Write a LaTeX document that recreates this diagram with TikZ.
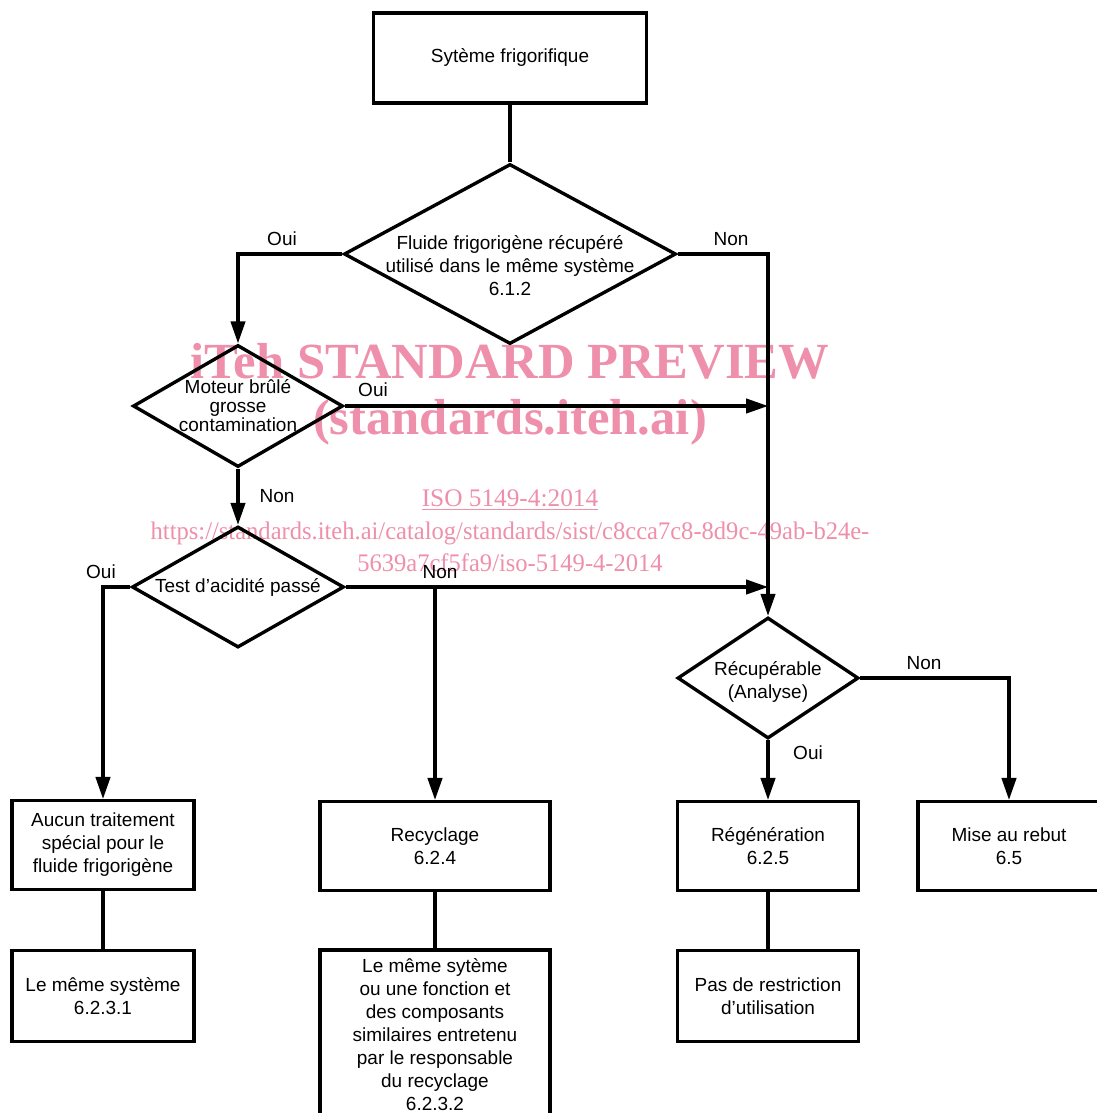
\documentclass[tikz,border=0pt]{standalone}
\usepackage{fontspec}
\setmainfont{Liberation Sans}
\newfontfamily\wmfont{Liberation Serif}
\usepackage{tikz}
\usetikzlibrary{
  shapes.geometric,
  arrows.meta
}
\definecolor{wmpink}{RGB}{238,143,171}

\tikzset{
  box/.style 2 args = {draw, line width=2.2pt, align=center, inner sep=0pt,
    minimum width=#1, minimum height=#2},
  decision/.style 2 args = {draw, diamond, line width=2.4pt, inner sep=0pt,
    minimum width=#1, minimum height=#2},
  flow/.style = {line width=2.2pt, -{Triangle[length=5.5mm, width=3.6mm]}},
  link/.style = {line width=2.2pt},
  answer/.style = {inner sep=0pt},
  wmark/.style = {text=wmpink, inner sep=0pt}
}

\begin{document}
\begin{tikzpicture}[x=0.025cm, y=-0.025cm, font=\fontsize{13.5}{16.4}\selectfont]
\clip (0,0) rectangle (1097,1113);

% watermark
\node[wmark, font=\wmfont\bfseries\fontsize{36}{40}\selectfont] (wmA) at (510,361) {iTeh STANDARD PREVIEW};
\node[wmark, font=\wmfont\bfseries\fontsize{36}{40}\selectfont] (wmB) at (510,422) {(standards.iteh.ai)};
\node[wmark, font=\wmfont\fontsize{18}{20}\selectfont] (wmC) at (510,500) {\underline{ISO 5149-4:2014}};
\node[wmark, font=\wmfont\fontsize{18}{20}\selectfont] (wmD) at (510,533) {\scalebox{0.97}[1]{https://standards.iteh.ai/catalog/standards/sist/c8cca7c8-8d9c-49ab-b24e-}};
\node[wmark, font=\wmfont\fontsize{18}{20}\selectfont] (wmE) at (510,563) {\scalebox{0.97}[1]{5639a7cf5fa9/iso-5149-4-2014}};

% boxes and decisions
\node[box={6.825cm}{2.25cm}] (sys) at (510,58) {\strut Sytème frigorifique};
\node[decision={8.3cm}{4.5cm},
  label={[align=center, yshift=-0.3cm]center:Fluide frigorigène récupéré\\utilisé dans le même système\\6.1.2}] (reuse) at (510,254) {};
\node[decision={5.25cm}{3.05cm},
  label={[align=center, font=\fontsize{13.5}{13.5}\selectfont]center:Moteur brûlé\\grosse\\contamination}] (motor) at (238,406) {};
\node[decision={5.3cm}{3.025cm},
  label={[align=center]center:Test d’acidité passé}] (acid) at (238,587) {};
\node[decision={4.525cm}{3.025cm},
  label={[align=center, yshift=-0.1cm]center:Récupérable\\(Analyse)}] (recov) at (768,678) {};

\node[box={4.55cm}{2.225cm}] (none) at (103,845) {Aucun traitement\\spécial pour le\\fluide frigorigène};
\node[box={5.75cm}{2.225cm}] (recyc) at (435,846) {Recyclage\\6.2.4};
\node[box={4.525cm}{2.225cm}] (regen) at (768,846) {Régénération\\6.2.5};
\node[box={4.55cm}{2.225cm}] (scrap) at (1009,846) {Mise au rebut\\6.5};

\node[box={4.55cm}{2.275cm}] (same) at (103,996) {Le même système\\6.2.3.1};
\node[box={5.75cm}{4.225cm}] (similar) at (435,1034.5) {Le même sytème\\ou une fonction et\\des composants\\similaires entretenu\\par le responsable\\du recyclage\\6.2.3.2};
\node[box={4.525cm}{2.275cm}] (free) at (768,996) {Pas de restriction\\d’utilisation};

% junctions on the right trunk
\coordinate (jmotor) at (768,406);
\coordinate (jacid) at (768,587);
\coordinate (jsplit) at (435,587);

% connectors
\draw[link] (sys) -- (reuse);
\draw[flow] (reuse.west) -| (motor.north);
\draw[flow] (reuse.east) -| (recov.north);
\draw[flow] (motor.east) -- (jmotor);
\draw[flow] (motor.south) -- (acid.north);
\draw[flow] (acid.west) -| (none.north);
\draw[flow] (acid.east) -- (jacid);
\draw[flow] (jsplit) -- (recyc.north);
\draw[flow] (recov.south) -- (regen.north);
\draw[flow] (recov.east) -| (scrap.north);
\draw[link] (none) -- (same);
\draw[link] (recyc) -- (similar);
\draw[link] (regen) -- (free);

% answers
\node[answer] (ouiA) at (282,239) {Oui};
\node[answer] (nonA) at (731,239) {Non};
\node[answer] (ouiB) at (373,390) {Oui};
\node[answer] (nonB) at (277,496) {Non};
\node[answer] (ouiC) at (101,572) {Oui};
\node[answer] (nonC) at (440,572) {Non};
\node[answer] (nonD) at (924,663) {Non};
\node[answer] (ouiD) at (808,753) {Oui};

\end{tikzpicture}
\end{document}
